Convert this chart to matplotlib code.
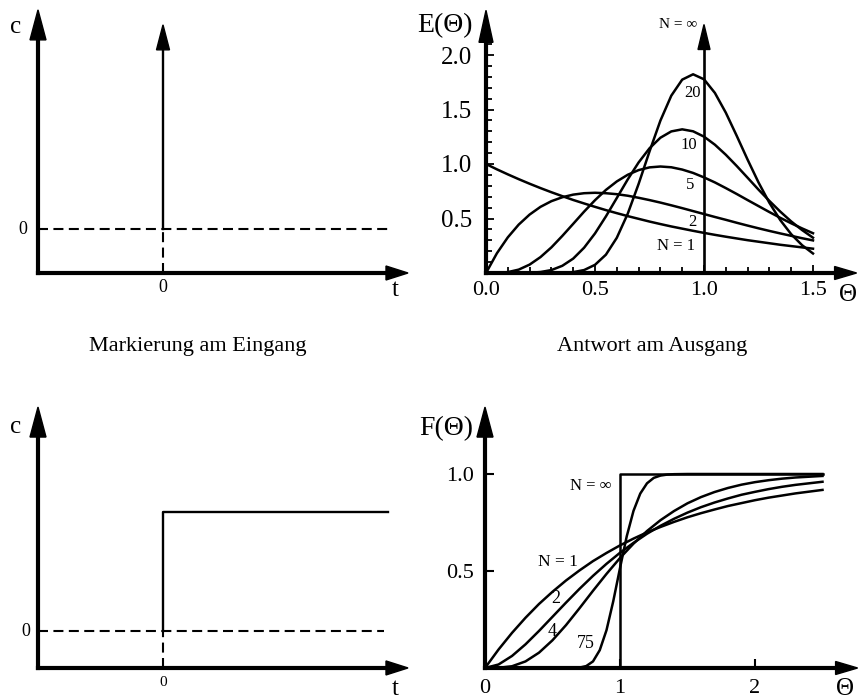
import numpy as np
import matplotlib
matplotlib.use("Agg")
import matplotlib.pyplot as plt
from matplotlib.patches import Polygon
from matplotlib.transforms import IdentityTransform

plt.rcParams["font.family"] = ["Liberation Serif", "DejaVu Serif"]

# impulse / step input
t_mark = 0.0
step_level = 2.7

# E(theta) curves, tanks in series
theta_e = [0.0, 0.05, 0.1, 0.15, 0.2, 0.25, 0.3, 0.35, 0.4, 0.45, 0.5, 0.55, 0.6, 0.65, 0.7,
           0.75, 0.8, 0.85, 0.9, 0.95, 1.0, 1.05, 1.1, 1.15, 1.2, 1.25, 1.3, 1.35, 1.4, 1.45, 1.5]
e_n1 = [1.0, .951, .905, .861, .819, .779, .741, .705, .670, .638, .607, .577, .549, .522, .497,
        .472, .449, .427, .407, .387, .368, .350, .333, .317, .301, .287, .273, .259, .247, .235, .223]
e_n2 = [0, .181, .327, .444, .536, .607, .659, .695, .719, .732, .736, .732, .723, .709, .690,
        .669, .646, .621, .595, .568, .541, .514, .488, .461, .435, .410, .386, .363, .341, .319, .299]
e_n5 = [0, .001, .008, .031, .077, .146, .235, .340, .451, .563, .668, .762, .840, .901, .944,
        .969, .977, .970, .949, .918, .877, .831, .779, .725, .669, .614, .559, .506, .456, .409, .365]
e_n10 = [0, 0, 0, 0, .002, .009, .027, .066, .132, .232, .363, .519, .688, .858, 1.014,
         1.144, 1.241, 1.299, 1.318, 1.300, 1.251, 1.177, 1.085, .982, .874, .765, .661, .563, .473, .394, .324]
e_n20 = [0, 0, 0, 0, 0, 0, 0, .002, .008, .027, .075, .168, .323, .543, .817,
         1.115, 1.398, 1.627, 1.774, 1.823, 1.777, 1.652, 1.471, 1.259, 1.040, .831, .644, .485, .356, .255, .179]
e_labels = ["N = 1", "2", "5", "10", "20"]

# F(theta) curves
theta_f = [0.0, 0.1, 0.2, 0.3, 0.4, 0.5, 0.6, 0.7, 0.8, 0.9, 1.0, 1.1, 1.2, 1.3, 1.4, 1.5,
           1.6, 1.7, 1.8, 1.9, 2.0, 2.1, 2.2, 2.3, 2.4, 2.5]
f_n1 = [0, .095, .181, .259, .330, .393, .451, .503, .551, .593, .632, .667, .699, .727, .753, .777,
        .798, .817, .835, .850, .865, .878, .889, .900, .909, .918]
f_n2 = [0, .018, .062, .122, .191, .264, .337, .408, .475, .537, .594, .645, .692, .733, .769, .801,
        .829, .853, .874, .893, .908, .922, .934, .944, .952, .960]
f_n4 = [0, .001, .009, .034, .079, .143, .221, .308, .398, .485, .567, .641, .706, .762, .809, .849,
        .881, .907, .928, .945, .958, .968, .976, .982, .986, .990]
theta_75 = [0.0, 0.6, 0.7, 0.75, 0.8, 0.85, 0.9, 0.95, 1.0, 1.05, 1.1, 1.15, 1.2, 1.25, 1.3,
            1.35, 1.4, 1.5, 2.5]
f_n75 = [0, 0, .002, .01, .034, .092, .195, .344, .515, .679, .81, .899, .952, .98, .992,
         .997, .999, 1.0, 1.0]
f_inf_theta = [1.0, 1.0, 2.5]
f_inf = [0.0, 1.0, 1.0]

W, H = 861, 699
fig = plt.figure(figsize=(W / 100, H / 100), dpi=100)


def add_ax(left, bottom, width, height):
    # pixel box (top-left origin) -> figure fraction
    ax = fig.add_axes([left / W, (H - bottom) / H, width / W, height / H])
    ax.patch.set_alpha(0)
    for s in ax.spines.values():
        s.set_visible(False)
    return ax


def arrow(ax, base, tip, lw, head_len, head_w):
    tr = ax.transData
    p0 = tr.transform(base)
    p1 = tr.transform(tip)
    d = (p1 - p0) / np.hypot(*(p1 - p0))
    n = np.array([-d[1], d[0]])
    stop = tr.inverted().transform(p1 - d * head_len * 0.6)
    ax.plot([base[0], stop[0]], [base[1], stop[1]], color="k", lw=lw,
            solid_capstyle="projecting", clip_on=False)
    back = p1 - d * head_len
    tri = [p1, back + n * head_w / 2, back - n * head_w / 2]
    ax.add_patch(Polygon(tri, closed=True, transform=IdentityTransform(),
                         color="k", clip_on=False))


dash = (0, (4.8, 2.6))

# --- top left: impulse ---
ax1 = add_ax(38, 273, 375, 264)
ax1.set_xlim(-1, 2)
ax1.set_ylim(-1, 5)
ax1.set_xticks([])
ax1.set_yticks([])
arrow(ax1, (-1, -1), (-1, 4.98), 3, 30, 16)
arrow(ax1, (-1, -1), (1.96, -1), 3, 22, 14)
ax1.plot([-1, 1.81], [0, 0], color="k", lw=1.5, linestyle=dash)
ax1.plot([t_mark, t_mark], [-1, 0], color="k", lw=1.5, linestyle=dash)
arrow(ax1, (t_mark, 0), (t_mark, 4.64), 1.7, 25, 13)
ax1.text(-1.18, 4.45, "c", ha="center", va="baseline", fontsize=18)
ax1.text(-1.12, 0, "0", ha="center", va="center", fontsize=13)
ax1.text(0, -1.34, "0", ha="center", va="center", fontsize=13)
ax1.text(1.86, -1.52, "t", ha="center", va="baseline", fontsize=18)

# --- bottom left: step ---
ax2 = add_ax(38, 675, 375, 264)
ax2.set_xlim(-1, 2)
ax2.set_ylim(-1, 5)
ax2.set_xticks([])
ax2.set_yticks([])
arrow(ax2, (-1, -0.84), (-1, 5.09), 3, 30, 16)
arrow(ax2, (-1, -0.84), (1.96, -0.84), 3, 22, 14)
ax2.plot([-1, 1.77], [0, 0], color="k", lw=1.5, linestyle=dash)
ax2.plot([t_mark, t_mark], [-0.84, 0], color="k", lw=1.5, linestyle=dash)
ax2.plot([t_mark, t_mark, 1.8], [0, step_level, step_level], color="k", lw=1.7)
ax2.text(-1.18, 4.5, "c", ha="center", va="baseline", fontsize=18)
ax2.text(-1.1, 0, "0", ha="center", va="center", fontsize=13)
ax2.text(0, -1.16, "0", ha="center", va="center", fontsize=11)
ax2.text(1.86, -1.45, "t", ha="center", va="baseline", fontsize=18)

fig.text(198 / W, 1 - 347 / H, "Markierung am Eingang", ha="center", va="center", fontsize=16)
fig.text(652 / W, 1 - 347 / H, "Antwort am Ausgang", ha="center", va="center", fontsize=16)

# --- top right: E(theta) ---
ax3 = add_ax(486, 273, 1.72 * 218, 2.42 * 109)
ax3.set_xlim(0, 1.72)
ax3.set_ylim(0, 2.42)
ax3.set_xticks([0, 0.5, 1.0, 1.5])
ax3.set_xticklabels(["0.0", "0.5", "1.0", "1.5"])
ax3.set_xticks([0.1, 0.2, 0.3, 0.4, 0.6, 0.7, 0.8, 0.9, 1.1, 1.2, 1.3, 1.4], minor=True)
ax3.set_yticks([0.5, 1.0, 1.5, 2.0])
ax3.set_yticklabels(["0.5", "1.0", "1.5", "2.0"])
ax3.set_yticks([0.1, 0.2, 0.3, 0.4, 0.6, 0.7, 0.8, 0.9, 1.1, 1.2, 1.3, 1.4,
                1.6, 1.7, 1.8, 1.9, 2.1], minor=True)
ax3.tick_params(which="both", direction="in", width=1.3)
ax3.tick_params(which="major", length=6)
ax3.tick_params(which="minor", length=4.5)
ax3.tick_params(axis="x", pad=6, labelsize=16)
ax3.tick_params(axis="y", pad=10, labelsize=18)
for y in (e_n1, e_n2, e_n5, e_n10, e_n20):
    ax3.plot(theta_e, y, color="k", lw=1.8, clip_on=False)
arrow(ax3, (0, 0), (0, 2.41), 3, 32, 14)
arrow(ax3, (0, 0), (1.70, 0), 3, 22, 13)
arrow(ax3, (1, 0), (1, 2.28), 1.9, 25, 12)
ax3.text(-0.06, 2.27, "E(\u0398)", ha="right", va="center", fontsize=20)
ax3.text(1.66, -0.2, "\u0398", ha="center", va="center", fontsize=18)
ax3.text(0.968, 2.28, "N = \u221e", ha="right", va="center", fontsize=11)
for lab, xy in zip(e_labels, [(0.87, 0.25), (0.945, 0.47), (0.936, 0.81), (0.93, 1.17), (0.945, 1.65)]):
    ax3.text(xy[0], xy[1], lab, ha="center", va="center", fontsize=12)

# --- bottom right: F(theta) ---
ax4 = add_ax(485, 668, 2.75 * 135, 1.35 * 194)
ax4.set_xlim(0, 2.75)
ax4.set_ylim(0, 1.35)
ax4.set_xticks([0, 1, 2])
ax4.set_xticklabels(["0", "1", "2"])
ax4.set_yticks([0.5, 1.0])
ax4.set_yticklabels(["0.5", "1.0"])
ax4.tick_params(direction="in", length=6.5, width=1.5, labelsize=16)
ax4.tick_params(axis="x", pad=8)
ax4.tick_params(axis="y", pad=8)
for th, y in ((theta_f, f_n1), (theta_f, f_n2), (theta_f, f_n4), (theta_75, f_n75), (f_inf_theta, f_inf)):
    ax4.plot(th, y, color="k", lw=1.8, clip_on=False)
arrow(ax4, (0, 0), (0, 1.345), 3, 30, 16)
arrow(ax4, (0, 0), (2.76, 0), 3, 22, 13)
ax4.text(-0.089, 1.235, "F(\u0398)", ha="right", va="center", fontsize=20)
ax4.text(2.67, -0.11, "\u0398", ha="center", va="center", fontsize=18)
ax4.text(0.785, 0.938, "N = \u221e", ha="center", va="center", fontsize=12)
ax4.text(0.54, 0.546, "N = 1", ha="center", va="center", fontsize=12.5)
ax4.text(0.526, 0.356, "2", ha="center", va="center", fontsize=13)
ax4.text(0.496, 0.19, "4", ha="center", va="center", fontsize=13)
ax4.text(0.748, 0.124, "75", ha="center", va="center", fontsize=13)

fig.savefig("out.png", dpi=100)
